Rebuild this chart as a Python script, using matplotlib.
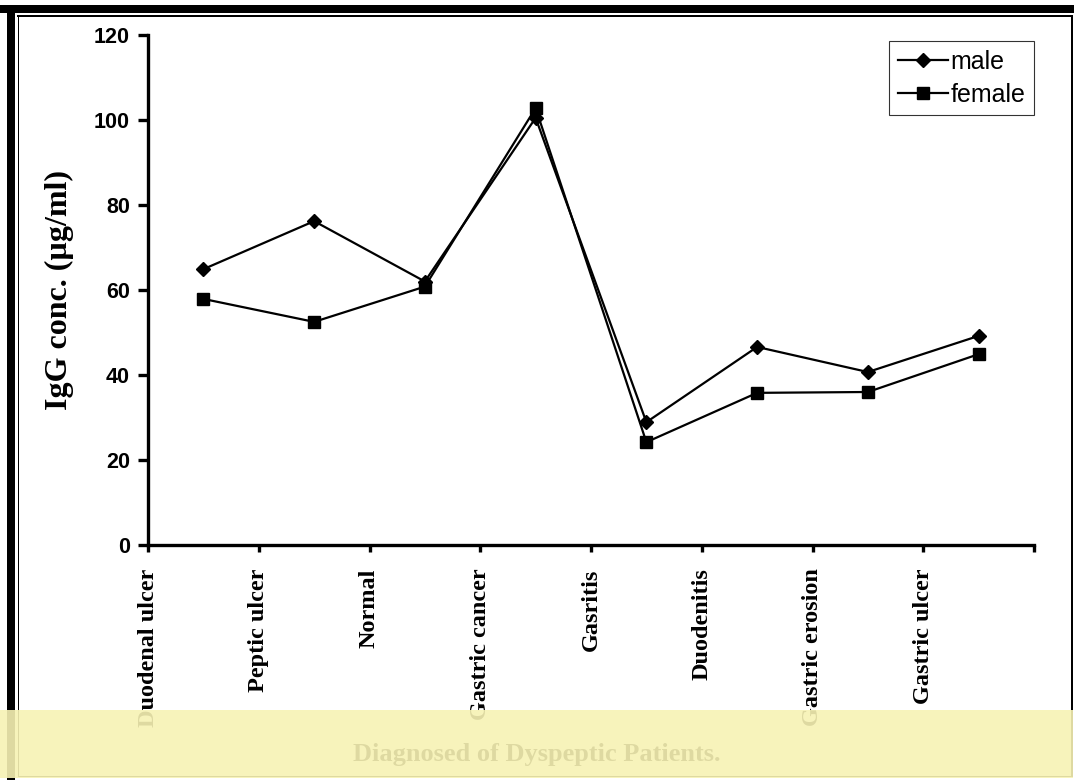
import matplotlib
matplotlib.use("Agg")
import matplotlib.pyplot as plt
from matplotlib.patches import Rectangle

# ---- Data ----
categories = ["Duodenal ulcer", "Peptic ulcer", "Normal", "Gastric cancer",
              "Gasritis", "Duodenitis", "Gastric erosion", "Gastric ulcer"]
male = [64.9, 76.2, 62.0, 100.5, 28.9, 46.6, 40.7, 49.2]
female = [57.9, 52.5, 60.8, 102.8, 24.2, 35.8, 36.0, 44.9]
y_ticks = [0, 20, 40, 60, 80, 100, 120]

W, H = 1074, 780
SERIF = "Liberation Serif"
SANS = "Liberation Sans"


def px_rect(fig, x0, y0, x1, y1, **kw):
    """Rectangle given in pixel coords measured from the top-left corner."""
    r = Rectangle((x0 / W, 1 - y1 / H), (x1 - x0) / W, (y1 - y0) / H,
                  transform=fig.transFigure, **kw)
    fig.add_artist(r)
    return r


fig = plt.figure(figsize=(W / 100, H / 100), dpi=100)
ax = fig.add_axes([148 / W, 1 - 545 / H, (1034 - 148) / W, (545 - 35) / H])

# points sit in the middle of each category slot
xs = [i + 0.5 for i in range(len(categories))]
ax.plot(xs, male, color="black", lw=1.6, marker="D", markersize=7.5,
        label="male", clip_on=False)
ax.plot(xs, female, color="black", lw=1.6, marker="s", markersize=8.5,
        label="female", clip_on=False)

ax.set_xlim(0, len(categories))
ax.set_ylim(0, 120)
ax.set_yticks(y_ticks)
ax.set_yticklabels([str(v) for v in y_ticks], fontfamily=SANS,
                   fontweight="bold", fontsize=15.5)
ax.set_xticks(range(len(categories) + 1))
ax.set_xticklabels(categories + [""], rotation=90, fontfamily=SERIF,
                   fontweight="bold", fontsize=17.5, va="top")

for side in ("top", "right"):
    ax.spines[side].set_visible(False)
for side in ("left", "bottom"):
    ax.spines[side].set_linewidth(2.4)
ax.tick_params(axis="y", direction="out", length=7, width=2.4, pad=6)
ax.tick_params(axis="x", direction="out", length=5, width=2.4, pad=12)

ax.set_ylabel("IgG conc. (µg/ml)", fontfamily=SERIF, fontweight="bold",
              fontsize=23, labelpad=14)

leg = ax.legend(loc="upper right", bbox_to_anchor=(1.0, 0.988),
                borderaxespad=0, frameon=True, fancybox=False,
                prop={"family": SANS, "size": 18}, handlelength=2.0,
                handletextpad=0.1, borderpad=0.35, labelspacing=0.35)
leg.get_frame().set_edgecolor("black")
leg.get_frame().set_linewidth(0.8)

# x-axis title (sits under the translucent strip)
fig.text(537 / W, 1 - 755 / H, "Diagnosed of Dyspeptic Patients.",
         ha="center", va="center", fontfamily=SERIF, fontweight="bold",
         fontsize=19, color="black")

# ---- Outer frame ----
px_rect(fig, 0, 5, W, 13, color="black", lw=0)
px_rect(fig, 7, 5, 15, H, color="black", lw=0)
px_rect(fig, 17, 15.5, 1072.5, 16.8, color="black", lw=0)
px_rect(fig, 17.5, 15.5, 18.8, 777, color="black", lw=0)
px_rect(fig, 1071.2, 15.5, 1072.5, 777, color="black", lw=0)
px_rect(fig, 17.5, 775.5, 1072.5, 776.8, color="black", lw=0)

# translucent strip across the bottom
strip = px_rect(fig, 0, 710, 1073, 778, facecolor=(247 / 255, 242 / 255, 180 / 255),
                alpha=0.9, lw=0)
strip.set_zorder(20)

fig.savefig("out.png", dpi=100)
